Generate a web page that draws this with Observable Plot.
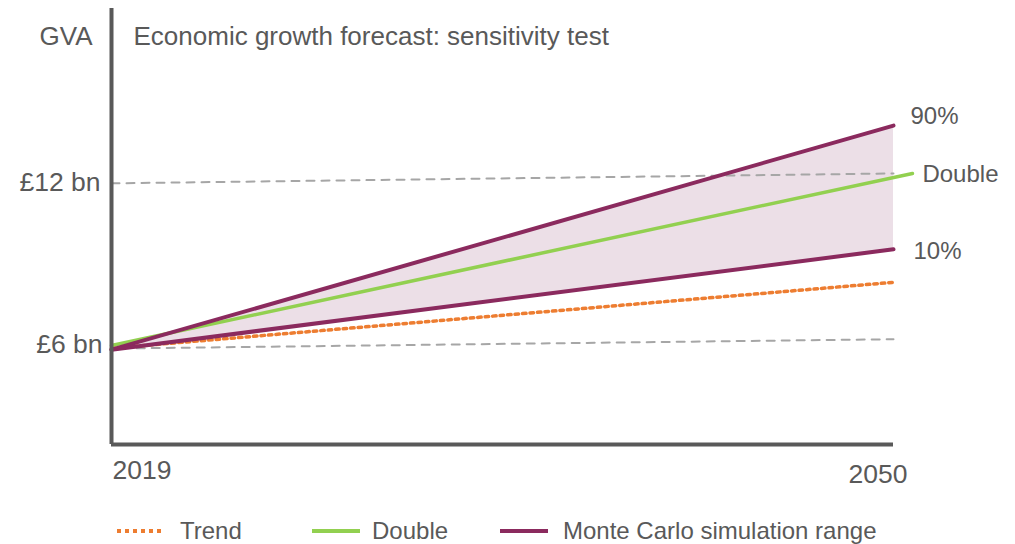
<!DOCTYPE html>
<html><head><meta charset="utf-8">
<script src="https://cdn.jsdelivr.net/npm/d3@7"></script>
<script src="https://cdn.jsdelivr.net/npm/@observablehq/plot@0.6"></script>
<style>
body{margin:0;background:#fff;font-family:"Liberation Sans",Arial,sans-serif;}
#wrap{position:relative;width:1015px;height:544px;overflow:hidden;}
#legend{position:absolute;left:0;top:500px;width:1015px;height:44px;color:#595959;font-size:24px;}
#legend span{position:absolute;top:16px;line-height:30px;white-space:nowrap;}
#legend svg{position:absolute;top:26px;}
</style></head>
<body><div id="wrap"><div id="chart"></div><div id="legend"></div></div>
<script>
// Data
const years = [2019, 2050];
const doubleYears = [2019, 2050.75];
const trend = [6.0, 8.4];
const doubleV = [6.1, 12.36];
const p90 = [5.95, 14.1];
const p10 = [5.95, 9.6];
const gridLowYears = [2020, 2050];
const gridLow = [6.0, 6.33];
const gridHigh = [12.0, 12.36];
const yTicks = [6, 12];
const yTickLabels = ["£6 bn", "£12 bn"];
const xTickLabels = ["2019", "2050"];
const endLabels = ["90%", "Double", "10%"];

const C = {purple:"#8b2a5e", green:"#92d050", orange:"#ed7d31", grid:"#a6a6a6", band:"#ecdfe7", axis:"#595959", text:"#595959"};

const band = years.map((x,i)=>({x, lo:p10[i], hi:p90[i]}));
const toPts = (xs, ys) => xs.map((x,i)=>({x, y:ys[i]}));
const yMin = 2.5, yMax = 18.36;

const plot = Plot.plot({
  width:1015, height:500,
  marginLeft:111, marginRight:122, marginTop:8, marginBottom:56,
  x:{domain:[2019,2050], axis:null},
  y:{domain:[yMin,yMax], axis:null},
  style:{fontFamily:"Liberation Sans, Arial, sans-serif", color:C.text, background:"#fff", overflow:"visible"},
  marks:[
    Plot.areaY(band,{x:"x", y1:"lo", y2:"hi", fill:C.band}),
    Plot.line(toPts(years, gridHigh),{x:"x", y:"y", stroke:C.grid, strokeWidth:2, strokeDasharray:"8,7"}),
    Plot.line(toPts(gridLowYears, gridLow),{x:"x", y:"y", stroke:C.grid, strokeWidth:2, strokeDasharray:"8,7"}),
    Plot.line(toPts(years, trend),{x:"x", y:"y", stroke:C.orange, strokeWidth:3.5, strokeDasharray:"3.5,4"}),
    Plot.line(toPts(doubleYears, doubleV),{x:"x", y:"y", stroke:C.green, strokeWidth:3.5}),
    Plot.line(toPts(years, p90),{x:"x", y:"y", stroke:C.purple, strokeWidth:4}),
    Plot.line(toPts(years, p10),{x:"x", y:"y", stroke:C.purple, strokeWidth:4}),
    // axes lines
    Plot.ruleX([2019],{y1:yMin, y2:yMax, stroke:C.axis, strokeWidth:4}),
    Plot.ruleY([yMin],{x1:2019, x2:2050, stroke:C.axis, strokeWidth:4}),
    // y tick labels
    Plot.text([yTicks[0]],{x:2019, y:d=>d, text:()=>yTickLabels[0], textAnchor:"end", lineAnchor:"middle", dx:-9, dy:-4, fontSize:26.5, fill:C.text}),
    Plot.text([yTicks[1]],{x:2019, y:d=>d, text:()=>yTickLabels[1], textAnchor:"end", lineAnchor:"middle", dx:-11, dy:-1, fontSize:26.5, fill:C.text}),
    // x tick labels
    Plot.text([0],{x:years[0], y:yMin, text:()=>xTickLabels[0], textAnchor:"start", lineAnchor:"middle", dx:1, dy:26, fontSize:26.5, fill:C.text}),
    Plot.text([0],{x:years[1], y:yMin, text:()=>xTickLabels[1], textAnchor:"end", lineAnchor:"middle", dx:14, dy:30, fontSize:26.5, fill:C.text}),
    // end labels
    Plot.text([0],{x:years[1], y:p90[1], text:()=>endLabels[0], textAnchor:"start", lineAnchor:"middle", dx:17, dy:-9, fontSize:24, fill:C.text}),
    Plot.text([0],{x:doubleYears[1], y:doubleV[1], text:()=>endLabels[1], textAnchor:"start", lineAnchor:"middle", dx:10, dy:1, fontSize:24, fill:C.text}),
    Plot.text([0],{x:years[1], y:p10[1], text:()=>endLabels[2], textAnchor:"start", lineAnchor:"middle", dx:20, dy:2, fontSize:24, fill:C.text}),
    // GVA label and title
    Plot.text([0],{frameAnchor:"top-left", text:()=>"GVA", textAnchor:"end", lineAnchor:"middle", dx:-19, dy:28, fontSize:26, fill:C.text}),
    Plot.text([0],{frameAnchor:"top-left", text:()=>"Economic growth forecast: sensitivity test", textAnchor:"start", lineAnchor:"middle", dx:22, dy:28, fontSize:26, fill:C.text})
  ]
});
document.getElementById("chart").appendChild(plot);

// legend
const items = [
  {label:"Trend", color:C.orange, dash:"4,4", left:117, textLeft:180},
  {label:"Double", color:C.green, dash:null, left:312, textLeft:372},
  {label:"Monte Carlo simulation range", color:C.purple, dash:null, left:500, textLeft:563}
];
const leg = d3.select("#legend");
items.forEach(it=>{
  const s = leg.append("svg").attr("width",48).attr("height",10).style("left", it.left+"px");
  s.append("line").attr("x1",0).attr("x2",48).attr("y1",5).attr("y2",5)
    .attr("stroke",it.color).attr("stroke-width",4).attr("stroke-dasharray",it.dash);
  leg.append("span").style("left", it.textLeft+"px").text(it.label);
});
</script></body></html>
